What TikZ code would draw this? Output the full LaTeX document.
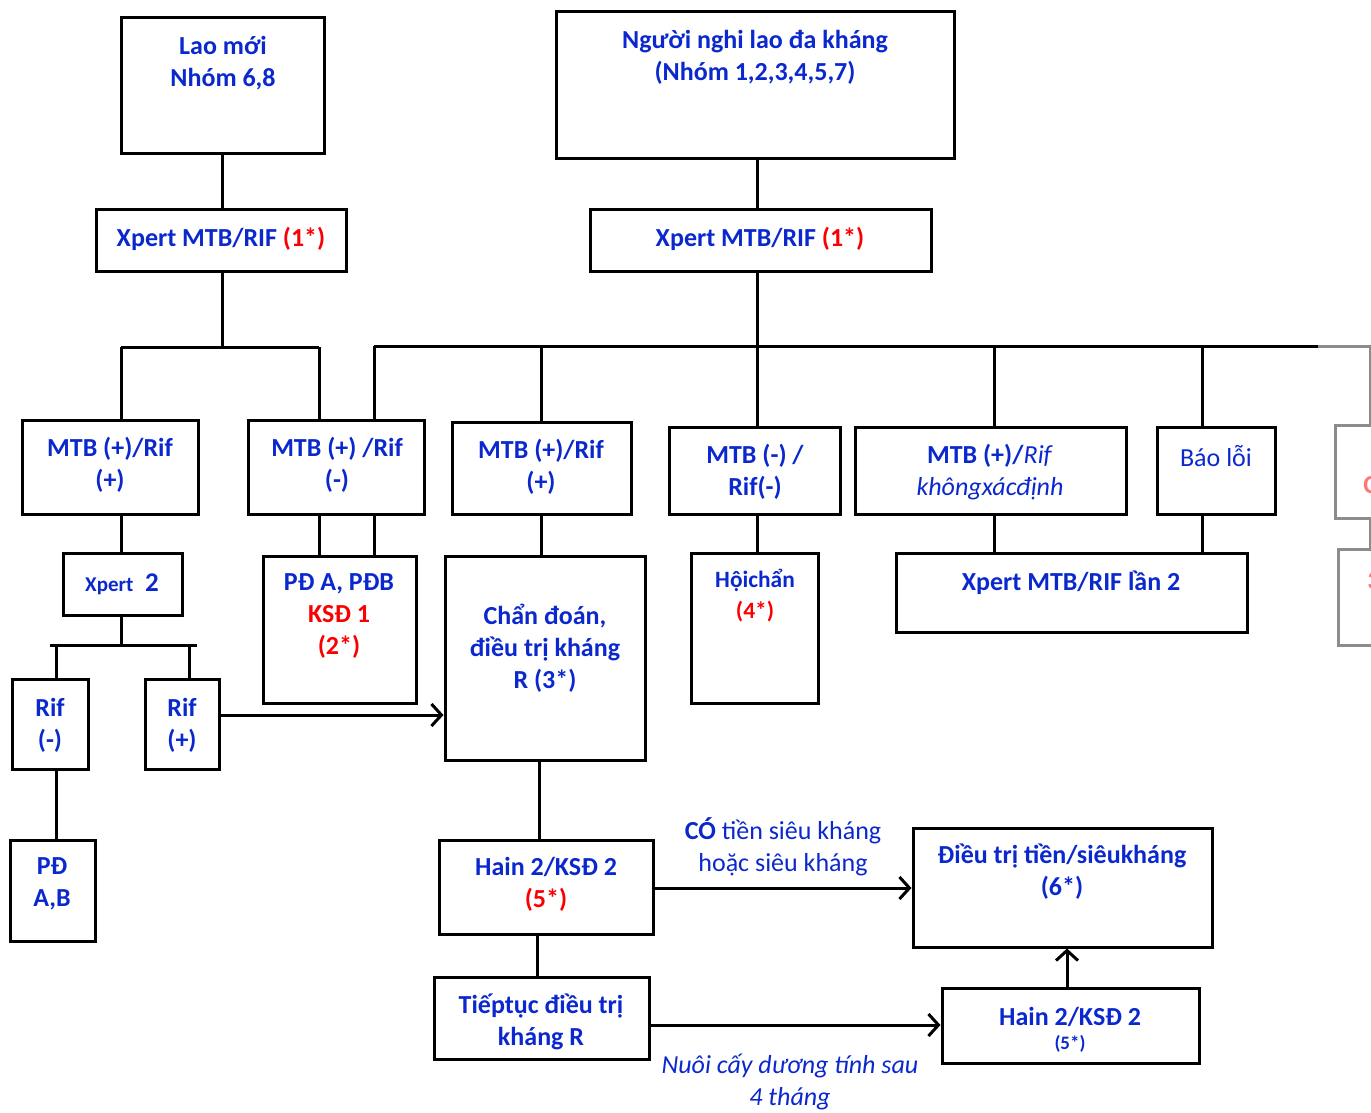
\documentclass[tikz,border=0pt]{standalone}
\usepackage{fontspec}
\setmainfont{Carlito}
\usetikzlibrary{arrows.meta,fit}
\definecolor{tblue}{RGB}{10,40,205}
\definecolor{tred}{RGB}{250,0,0}
\definecolor{lgray}{RGB}{140,140,140}
\definecolor{lpink}{RGB}{255,120,120}
\tikzset{
  box/.style={draw=black,line width=1.5pt,inner sep=0pt,fill=none},
  gbox/.style={draw=lgray,line width=1.5pt,inner sep=0pt},
  txt/.style={align=center,inner sep=0pt,text=tblue,font=\fontsize{13}{16}\selectfont\bfseries},
  lbl/.style={align=center,inner sep=0pt,text=tblue,font=\fontsize{13}{16}\selectfont},
  ln/.style={draw=black,line width=1.5pt},
  gln/.style={draw=lgray,line width=1.5pt},
  arr/.style={draw=black,line width=1.5pt,-{Straight Barb[length=5pt,width=11pt,line width=1.5pt]}},
}
\newcommand\bx[6][box]{%
  \coordinate (#2-nw) at (#3,#4);
  \coordinate (#2-se) at (#5,#6);
  \node[#1,fit=(#2-nw)(#2-se)] (#2) {};}
\newcommand\rd[1]{\textcolor{tred}{#1}}
\begin{document}
\begin{tikzpicture}[x=0.5pt,y=-0.5pt]
\useasboundingbox (0,0) rectangle (1371,1113);
\clip (0,0) rectangle (1371,1113);
% boxes
\bx{lao}{121}{18}{324}{154}
\bx{nn}{556}{12}{954}{159}
\bx{xl}{96}{209}{346}{271}
\bx{xr}{590}{209}{931}{271}
\bx{m1}{22}{420}{198}{514}
\bx{m2}{248}{420}{424}{514}
\bx{m3}{452}{422}{631}{514}
\bx{m4}{669}{427}{840}{514}
\bx{m5}{855}{427}{1126}{514}
\bx{m6}{1157}{427}{1275}{514}
\bx[gbox]{g1}{1335}{425}{1420}{518}
\bx{xp2}{63}{553}{182}{615}
\bx{pd}{263}{556}{416}{703}
\bx{cd}{445}{556}{645}{760}
\bx{hc}{691}{553}{818}{703}
\bx{xl2}{896}{553}{1247}{632}
\bx[gbox]{g2}{1338}{549}{1420}{645}
\bx{r1}{12}{679}{88}{769}
\bx{r2}{145}{679}{219}{769}
\bx{pdab}{10}{840}{95}{941}
\bx{h1}{439}{840}{653}{934}
\bx{dt}{913}{828}{1212}{947}
\bx{tt}{434}{977}{649}{1059}
\bx{h2}{942}{988}{1199}{1063}
% texts
\node[txt] (t-lao) at (223,63) {Lao mới\\Nhóm 6,8};
\node[txt] (t-nn) at (755,57) {Người nghi lao đa kháng\\(Nhóm 1,2,3,4,5,7)};
\node[txt] (t-xl) at (221,239) {Xpert MTB/RIF \rd{(1*)}};
\node[txt] (t-xr) at (760,239) {Xpert MTB/RIF \rd{(1*)}};
\node[txt] (t-m1) at (110,465) {MTB (+)/Rif\\(+)};
\node[txt] (t-m2) at (337,465) {MTB (+) /Rif\\(-)};
\node[txt] (t-m3) at (541,467) {MTB (+)/Rif\\(+)};
\node[txt] (t-m4) at (755,472) {MTB (-) /\\Rif(-)};
\node[txt] (t-m5) at (990,472) {MTB (+)/\textmd{\itshape Rif}\\\textmd{\itshape khôngxácđịnh}};
\node[lbl] (t-m6) at (1216,456) {Báo lỗi};
\node[txt,text=lpink,anchor=west] (t-g1) at (1363,485) {C};
\node[txt,text=lpink,anchor=west] (t-g2) at (1367,581) {3};
\node[txt] (t-xp2) at (122,584) {{\fontsize{10.5}{12}\selectfont Xpert}\ \ {\fontsize{13.5}{14}\selectfont 2}};
\node[txt] (t-pd) at (339,616) {PĐ A, PĐB\\\rd{KSĐ 1}\\\rd{(2*)}};
\node[txt] (t-cd) at (545,648) {Chẩn đoán,\\điều trị kháng\\R (3*)};
\node[txt,font=\fontsize{11.7}{15.5}\selectfont\bfseries] (t-hc) at (755,596) {Hộichẩn\\\rd{(4*)}};
\node[txt] (t-xl2) at (1071,583) {Xpert MTB/RIF lần 2};
\node[txt] (t-r1) at (50,725) {Rif\\(-)};
\node[txt] (t-r2) at (182,725) {Rif\\(+)};
\node[txt] (t-pdab) at (52,884) {PĐ\\A,B};
\node[txt] (t-h1) at (546,884) {Hain 2/KSĐ 2\\\rd{(5*)}};
\node[txt] (t-dt) at (1062,872) {Điều trị tiền/siêukháng\\(6*)};
\node[txt] (t-tt) at (541,1022) {Tiếptục điều trị\\kháng R};
\node[txt] (t-h2a) at (1070,1017) {Hain 2/KSĐ 2};
\node[txt,font=\fontsize{9.5}{10}\selectfont\bfseries] (t-h2b) at (1070,1044) {(5*)};
\node[lbl] (t-la) at (783,847) {\textbf{CÓ} tiền siêu kháng\\hoặc siêu kháng};
\node[lbl,font=\fontsize{13}{16}\selectfont\itshape] (t-lb) at (790,1082) {Nuôi cấy dương tính sau\\4 tháng};
% connectors left tree
\draw[ln] (lao.south) -- (lao.south |- xl.north);
\coordinate (jl) at (222,347);
\coordinate (m1a) at (121,420);
\coordinate (m2a) at (319,420);
\coordinate (m2b) at (374,420);
\draw[ln] (xl.south -| jl) -- (jl);
\draw[ln] (jl -| m1a) -- (jl -| m2a);
\draw[ln] (jl -| m1a) -- (m1a);
\draw[ln] (jl -| m2a) -- (m2a);
% right tree
\coordinate (jr) at (757,346);
\coordinate (je) at (1318,346);
\coordinate (m5a) at (994,427);
\coordinate (m6a) at (1202,427);
\coordinate (g1a) at (1370,425);
\draw[ln] (nn.south -| jr) -- (xr.north -| jr);
\draw[ln] (xr.south -| jr) -- (jr);
\draw[ln] (jr -| m2b) -- (je);
\draw[gln] (je) -- (jr -| g1a) -- (g1a);
\draw[ln] (jr -| m2b) -- (m2b);
\draw[ln] (jr -| m3.north) -- (m3.north);
\draw[ln] (jr) -- (jr |- m4.north);
\draw[ln] (jr -| m5a) -- (m5a);
\draw[ln] (jr -| m6a) -- (m6a);
\draw[gln] (g1a |- g1.south) -- (g1a |- g2.north);
% second level
\draw[ln] (m1.south -| m1a) -- (xp2.north -| m1a);
\coordinate (pda) at (319,556);
\coordinate (pdb) at (374,556);
\draw[ln] (pda |- m2.south) -- (pda);
\draw[ln] (pdb |- m2.south) -- (pdb);
\draw[ln] (m3.south -| 541,0) -- (cd.north -| 541,0);
\draw[ln] (m4.south -| jr) -- (hc.north -| jr);
\draw[ln] (m5.south -| m5a) -- (xl2.north -| m5a);
\draw[ln] (m6.south -| m6a) -- (xl2.north -| m6a);
% Xpert 2 branch
\coordinate (jx) at (121,645);
\coordinate (jx1) at (50,645);
\coordinate (jx2) at (197,645);
\coordinate (r1a) at (56,679);
\coordinate (r2a) at (189,679);
\draw[ln] (xp2.south -| jx) -- (jx);
\draw[ln] (jx1) -- (jx2);
\draw[ln] (r1a |- jx) -- (r1a);
\draw[ln] (r2a |- jx) -- (r2a);
\draw[ln] (r1.south -| r1a) -- (pdab.north -| r1a);
\coordinate (a1) at (219,715);
\draw[arr] (a1) -- (a1 -| cd.west);
% lower
\coordinate (c1) at (539,760);
\draw[ln] (c1) -- (c1 |- h1.north);
\coordinate (c2) at (537,934);
\draw[ln] (c2) -- (c2 |- tt.north);
\coordinate (a2) at (653,888);
\draw[arr] (a2) -- (a2 -| dt.west);
\coordinate (a3) at (649,1025);
\draw[arr] (a3) -- (a3 -| h2.west);
\coordinate (a4) at (1067,988);
\draw[arr] (a4) -- (a4 |- dt.south);
\end{tikzpicture}
\end{document}
